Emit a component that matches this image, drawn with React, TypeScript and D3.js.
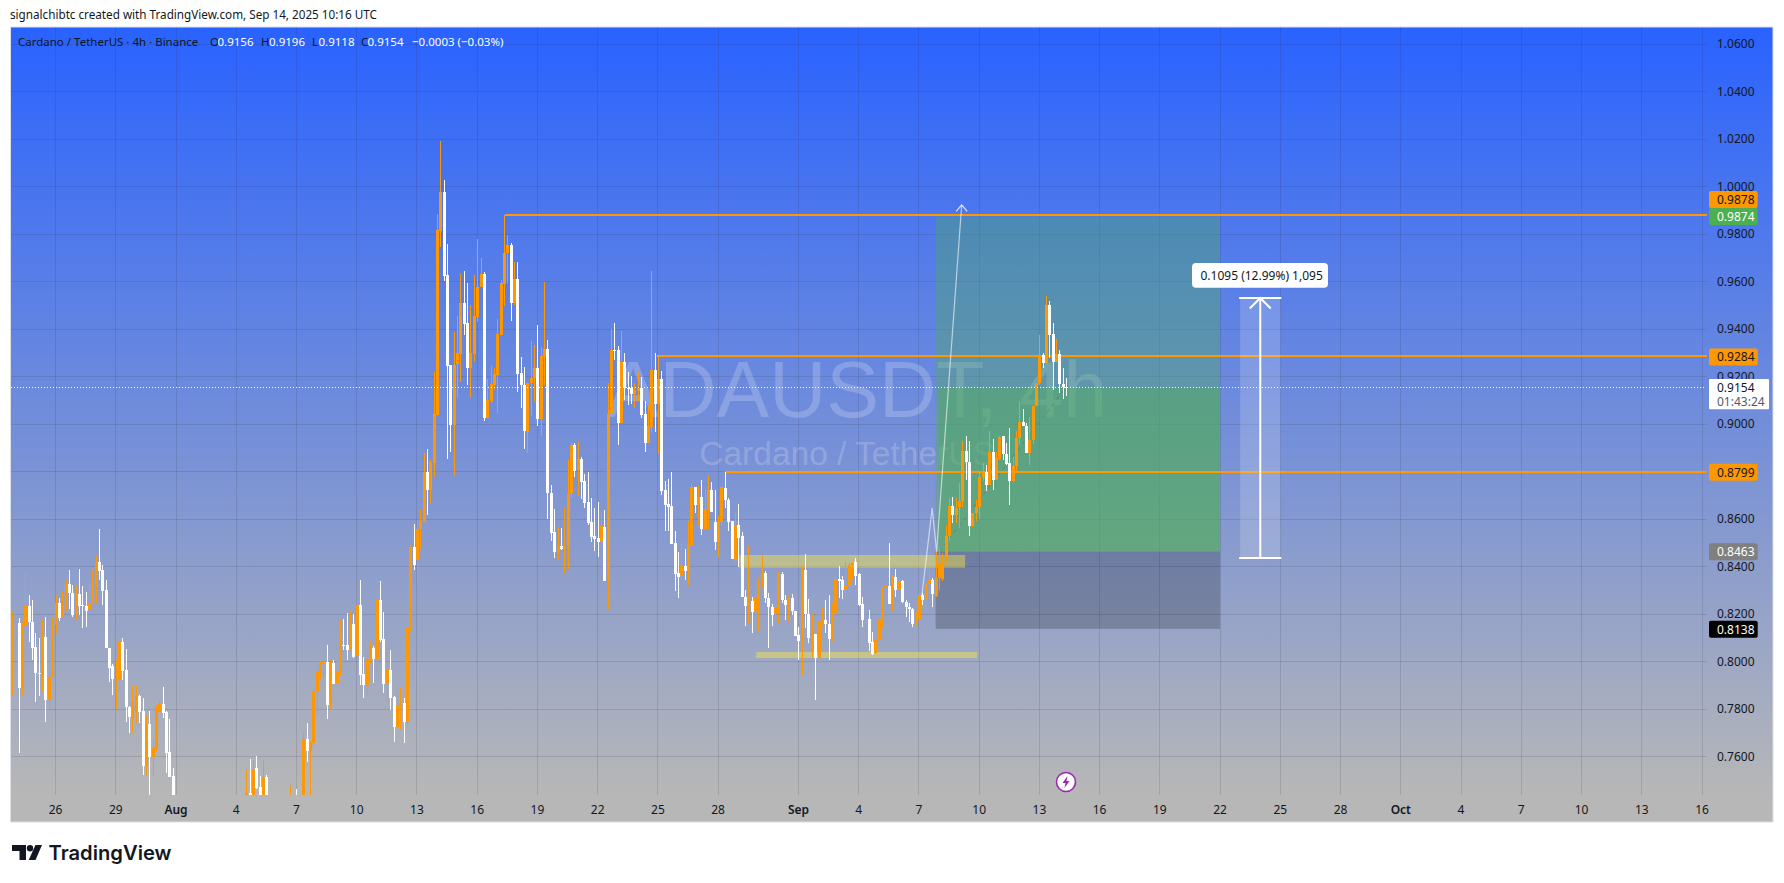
import React from "react";
import * as d3 from "d3";

const W = 1784, H = 883;
const FONT = "'Noto Sans', 'Liberation Sans', sans-serif";

// Candle OHLC, 4h bars, first bar is 49 bars before Aug 1 00:00 UTC
const opens = [
.8136,.8160,.8161,.7890,.8151,.8234,.8165,.8060,.7951,.7944,
.8103,.7838,.7934,.8154,.8245,.8185,.8234,.8327,.8291,.8196,
.8284,.8238,.8234,.8217,.8241,.8318,.8419,.8385,.8301,.8056,
.7981,.7925,.7929,.8084,.7965,.7810,.7765,.7789,.7855,.7792,
.7561,.7737,.7597,.7628,.7790,.7822,.7789,.7618,.7518,.7420,
.7310,.7220,.7260,.7240,.7150,.7230,.7300,.7270,.7320,.7310,
.7350,.7330,.7290,.7340,.7320,.7350,.7370,.7340,.7380,.7400,
.7430,.7446,.7438,.7551,.7471,.7438,.7513,.7430,.7380,.7350,
.7390,.7360,.7400,.7370,.7410,.7380,.7370,.7430,.7673,.7625,
.7659,.7874,.7958,.7995,.7997,.7818,.7996,.7909,.7951,.8070,
.8070,.8049,.8159,.8025,.8239,.7948,.7902,.8010,.8056,.8010,
.8260,.8095,.7906,.7965,.7853,.7727,.7815,.7825,.7748,.8145,
.8484,.8430,.8557,.8590,.8800,.8723,.8835,.9040,.9813,.9979,
.9628,.9249,.8997,.9253,.9295,.9509,.9424,.9235,.9295,.9450,
.9576,.9632,.9027,.9099,.9165,.9207,.9375,.9590,.9719,.9754,
.9509,.9610,.9217,.9165,.8968,.9175,.9193,.9235,.9022,.9284,
.9315,.8709,.8547,.8463,.8486,.8477,.8487,.8711,.8912,.8806,
.8853,.8760,.8672,.8588,.8529,.8520,.8505,.8566,.8339,.9042,
.9314,.9314,.9006,.9261,.9154,.9150,.9126,.9139,.9150,.9042,
.8919,.8989,.9227,.9084,.9190,.8722,.8663,.8655,.8498,.8372,
.8360,.8402,.8383,.8489,.8737,.8660,.8692,.8559,.8639,.8723,
.8590,.8503,.8587,.8730,.8681,.8593,.8428,.8576,.8529,.8274,
.8235,.8257,.8207,.8267,.8340,.8375,.8270,.8232,.8201,.8225,
.8370,.8260,.8239,.8267,.8214,.8113,.8085,.8386,.8200,.8099,
.8117,.8014,.8169,.8176,.8159,.8094,.8204,.8347,.8343,.8302,
.8320,.8406,.8421,.8368,.8242,.8176,.8180,.8084,.8036,.8094,
.8179,.8309,.8319,.8243,.8358,.8302,.8340,.8253,.8229,.8221,
.8158,.8180,.8281,.8260,.8330,.8344,.8277,.8351,.8349,.8417,
.8527,.8656,.8618,.8651,.8677,.8887,.8842,.8572,.8625,.8653,
.8776,.8800,.8745,.8884,.8765,.8852,.8948,.8875,.8835,.8762,
.8824,.8941,.9008,.8993,.8880,.8934,.9077,.9172,.9291,.9259,
.9502,.9380,.9263,.9296,.9169,.9156];

const highs = [
.8210,.8251,.8185,.8168,.8380,.8280,.8259,.8119,.8101,.8175,
.8186,.8000,.8182,.8280,.8270,.8294,.8346,.8385,.8322,.8321,
.8392,.8318,.8294,.8336,.8388,.8446,.8558,.8406,.8343,.8056,
.7990,.8009,.8098,.8098,.8053,.7813,.7897,.7897,.7858,.7845,
.7775,.7792,.7673,.7817,.7841,.7894,.7792,.7758,.7551,.7440,
.7350,.7300,.7330,.7290,.7260,.7330,.7380,.7340,.7400,.7370,
.7420,.7390,.7360,.7410,.7380,.7420,.7430,.7400,.7432,.7435,
.7548,.7589,.7582,.7603,.7519,.7586,.7523,.7436,.7430,.7400,
.7432,.7420,.7435,.7481,.7435,.7463,.7435,.7698,.7740,.7663,
.7884,.8007,.8003,.8052,.8070,.8010,.8007,.8007,.8175,.8180,
.8206,.8211,.8201,.8246,.8344,.8021,.8056,.8084,.8066,.8305,
.8340,.8211,.8000,.8049,.7856,.7881,.7888,.7846,.8147,.8490,
.8580,.8597,.8639,.8877,.8896,.8852,.9218,.9883,1.0192,1.0028,
.9758,.9249,.9389,.9453,.9632,.9645,.9593,.9502,.9628,.9779,
.9698,.9639,.9189,.9245,.9235,.9443,.9607,.9880,.9796,.9761,
.9684,.9681,.9281,.9239,.9179,.9350,.9333,.9417,.9323,.9597,
.9354,.8743,.8642,.8565,.8564,.8648,.8849,.8923,.8919,.8923,
.8860,.8792,.8797,.8687,.8645,.8672,.8631,.8638,.9171,.9400,
.9424,.9328,.9391,.9298,.9219,.9202,.9175,.9220,.9197,.9097,
.9076,.9645,.9298,.9283,.9223,.8760,.8771,.8797,.8550,.8460,
.8498,.8474,.8593,.8747,.8737,.8740,.8765,.8726,.8786,.8758,
.8723,.8614,.8737,.8800,.8690,.8593,.8632,.8664,.8545,.8302,
.8487,.8271,.8295,.8358,.8445,.8383,.8288,.8243,.8239,.8379,
.8376,.8281,.8277,.8284,.8215,.8148,.8403,.8454,.8264,.8204,
.8117,.8211,.8225,.8260,.8281,.8243,.8351,.8403,.8361,.8421,
.8417,.8421,.8435,.8375,.8274,.8243,.8218,.8127,.8186,.8183,
.8316,.8319,.8499,.8365,.8389,.8358,.8344,.8260,.8246,.8225,
.8211,.8292,.8288,.8330,.8386,.8351,.8463,.8480,.8456,.8569,
.8688,.8695,.8690,.8751,.8927,.8948,.8927,.8625,.8681,.8800,
.8835,.8828,.8969,.8936,.8884,.8948,.8951,.8920,.8983,.8863,
.8969,.9098,.9064,.9004,.9032,.9077,.9172,.9373,.9301,.9540,
.9519,.9425,.9359,.9312,.9235,.9196];

const lows = [
.7860,.8105,.7617,.7857,.7969,.8084,.8007,.7831,.7857,.7873,
.7747,.7799,.7934,.8119,.8171,.8185,.8213,.8220,.8189,.8178,
.8196,.8143,.8147,.8196,.8241,.8241,.8343,.8238,.8056,.7915,
.7859,.7799,.7887,.7922,.7747,.7698,.7700,.7740,.7740,.7523,
.7523,.7438,.7518,.7625,.7789,.7761,.7530,.7516,.7400,.7280,
.7190,.7170,.7210,.7100,.7120,.7200,.7250,.7220,.7280,.7260,
.7300,.7250,.7240,.7300,.7260,.7310,.7320,.7290,.7340,.7350,
.7400,.7400,.7420,.7463,.7400,.7420,.7400,.7350,.7330,.7310,
.7340,.7320,.7350,.7340,.7360,.7340,.7350,.7400,.7579,.7420,
.7642,.7780,.7923,.7934,.7759,.7801,.7906,.7909,.7944,.8049,
.8007,.8049,.8014,.8021,.7902,.7849,.7863,.7993,.7912,.7965,
.8084,.7867,.7829,.7797,.7663,.7720,.7712,.7659,.7734,.8130,
.8386,.8337,.8470,.8590,.8618,.8667,.8779,.9040,.9747,.9603,
.8853,.8884,.8782,.9109,.9179,.9375,.9165,.9109,.9263,.9431,
.9576,.9015,.9027,.9088,.9144,.9048,.9375,.9497,.9593,.9434,
.9502,.9137,.9069,.8896,.8880,.9036,.9095,.8992,.8952,.9165,
.8600,.8509,.8437,.8428,.8470,.8372,.8388,.8687,.8778,.8698,
.8684,.8648,.8575,.8505,.8467,.8442,.8484,.8339,.8217,.9038,
.9269,.8912,.9003,.9101,.9080,.9084,.9066,.9097,.9024,.8884,
.8919,.8964,.8968,.8874,.8701,.8551,.8551,.8495,.8299,.8269,
.8343,.8343,.8320,.8487,.8625,.8571,.8534,.8555,.8555,.8630,
.8470,.8442,.8569,.8646,.8548,.8433,.8421,.8400,.8274,.8152,
.8158,.8120,.8101,.8131,.8316,.8246,.8057,.8152,.8183,.8162,
.8246,.8176,.8169,.8197,.8106,.8008,.7944,.8141,.8080,.8014,
.7839,.7986,.8155,.8120,.8005,.8085,.8197,.8267,.8263,.8274,
.8288,.8344,.8323,.8235,.8144,.8162,.8043,.8029,.8033,.8092,
.8148,.8218,.8243,.8207,.8274,.8274,.8246,.8190,.8169,.8148,
.8152,.8176,.8239,.8260,.8288,.8232,.8274,.8302,.8340,.8417,
.8510,.8583,.8583,.8562,.8650,.8765,.8527,.8566,.8594,.8600,
.8760,.8720,.8744,.8723,.8765,.8850,.8849,.8829,.8660,.8758,
.8800,.8913,.8990,.8877,.8828,.8917,.9077,.9165,.9235,.9253,
.9277,.9144,.9260,.9133,.9105,.9118];

const closes = [
.8161,.8161,.7890,.8151,.8234,.8165,.8056,.7951,.7950,.8097,
.7838,.7934,.8158,.8245,.8185,.8238,.8327,.8287,.8196,.8283,
.8235,.8236,.8214,.8244,.8322,.8421,.8383,.8297,.8059,.7974,
.7927,.7929,.8084,.7960,.7810,.7768,.7831,.7855,.7789,.7561,
.7739,.7597,.7636,.7810,.7822,.7785,.7617,.7516,.7420,.7310,
.7220,.7260,.7240,.7150,.7230,.7300,.7270,.7320,.7310,.7350,
.7330,.7290,.7340,.7320,.7350,.7370,.7340,.7380,.7400,.7430,
.7446,.7430,.7547,.7467,.7438,.7513,.7430,.7380,.7350,.7390,
.7360,.7400,.7370,.7410,.7380,.7370,.7430,.7673,.7625,.7663,
.7877,.7958,.8000,.8000,.7818,.7996,.7906,.7958,.8070,.8066,
.8049,.8159,.8021,.8239,.7944,.7902,.8010,.8056,.8010,.8260,
.8091,.7906,.7965,.7849,.7727,.7818,.7822,.7748,.8145,.8484,
.8408,.8557,.8594,.8800,.8723,.8842,.9043,.9817,.9979,.9624,
.9245,.8997,.9249,.9298,.9509,.9422,.9235,.9298,.9455,.9576,
.9632,.9027,.9102,.9169,.9211,.9380,.9593,.9719,.9754,.9509,
.9610,.9211,.9165,.8971,.9175,.9193,.9235,.9022,.9287,.9315,
.8709,.8543,.8463,.8484,.8475,.8487,.8711,.8912,.8802,.8853,
.8757,.8669,.8585,.8526,.8515,.8505,.8571,.8339,.9042,.9314,
.9312,.9006,.9261,.9153,.9147,.9126,.9143,.9153,.9038,.8922,
.8992,.9227,.9084,.9190,.8720,.8659,.8652,.8495,.8369,.8358,
.8402,.8383,.8490,.8734,.8660,.8695,.8559,.8642,.8723,.8628,
.8503,.8587,.8737,.8681,.8587,.8433,.8573,.8520,.8274,.8235,
.8253,.8207,.8267,.8340,.8375,.8270,.8232,.8197,.8225,.8372,
.8260,.8239,.8274,.8214,.8110,.8087,.8383,.8200,.8101,.8117,
.8014,.8169,.8176,.8159,.8094,.8204,.8347,.8340,.8302,.8323,
.8406,.8417,.8361,.8239,.8176,.8179,.8078,.8033,.8094,.8179,
.8309,.8319,.8243,.8361,.8302,.8340,.8253,.8229,.8221,.8158,
.8208,.8281,.8260,.8330,.8344,.8285,.8351,.8417,.8421,.8527,
.8656,.8618,.8646,.8677,.8887,.8842,.8572,.8625,.8653,.8776,
.8800,.8744,.8884,.8765,.8856,.8945,.8873,.8833,.8762,.8824,
.8941,.9008,.8993,.8880,.8934,.9077,.9172,.9289,.9259,.9502,
.9376,.9263,.9296,.9169,.9155,.9154];

const FIRST_BAR = -49;
const BAR_MS = 4 * 3600 * 1000;

// Axis ticks
const priceTicks = [0.76, 0.78, 0.80, 0.82, 0.84, 0.86, 0.88, 0.90, 0.92, 0.94, 0.96, 0.98, 1.0, 1.02, 1.04, 1.06];
const hiddenPriceLabels = [0.88];
const timeTickDays = [-6, -3, 0, 3, 6, 9, 12, 15, 18, 21, 24, 27, 31, 34, 37, 40, 43, 46, 49, 52, 55, 58, 61, 64, 67, 70, 73, 76];
const timeTickLabels = ["26", "29", "Aug", "4", "7", "10", "13", "16", "19", "22", "25", "28", "Sep", "4", "7", "10", "13", "16", "19", "22", "25", "28", "Oct", "4", "7", "10", "13", "16"];

// Drawings
const hLinePrices = [0.9878, 0.9284, 0.8799];
const hLineStartDays = [16.4, 23.97, 27.35];
const lastPrice = 0.9154;
const entryPrice = 0.8463, targetPrice = 0.9874, stopPrice = 0.8138;
const positionDays = [37.83, 52];
const positionFilledDay = 38;
const boxDays = [[28.05, 39.3], [28.9, 39.9]];
const boxPrices = [[0.8449, 0.8396], [0.8041, 0.8015]];
const projDays = [37.14, 37.66, 37.88, 39.13];
const projPrices = [0.8272, 0.8647, 0.8463, 0.9923];
const measureDays = [53, 55];
const measurePrices = [0.8436, 0.9531];
const measureLabel = "0.1095 (12.99%) 1,095";

const axisLabels = [
  { price: 0.9878, text: "0.9878", fill: "#ff9800", color: "#131722", cy: 199.4 },
  { price: 0.9874, text: "0.9874", fill: "#4caf50", color: "#ffffff", cy: 216.4 },
  { price: 0.9284, text: "0.9284", fill: "#ff9800", color: "#131722", cy: 357 },
  { price: 0.8799, text: "0.8799", fill: "#ff9800", color: "#131722", cy: 472.2 },
  { price: 0.8463, text: "0.8463", fill: "#808080", color: "#ffffff", cy: 551.7 },
  { price: 0.8138, text: "0.8138", fill: "#000000", color: "#ffffff", cy: 629.3 },
];

const legendParts = [
  { x: 18, t: "Cardano / TetherUS · 4h · Binance", c: "#131722" },
  { x: 210, t: "O", c: "#131722" }, { x: 217.5, t: "0.9156", c: "#ffffff" },
  { x: 261, t: "H", c: "#131722" }, { x: 269, t: "0.9196", c: "#ffffff" },
  { x: 312, t: "L", c: "#131722" }, { x: 318.5, t: "0.9118", c: "#ffffff" },
  { x: 361, t: "C", c: "#131722" }, { x: 367.5, t: "0.9154", c: "#ffffff" },
  { x: 412, t: "−0.0003 (−0.03%)", c: "#ffffff" },
];

const t0 = Date.UTC(2025, 7, 1);
const dayDate = (d: number) => new Date(t0 + d * 86400000);
const x = d3.scaleUtc().domain([dayDate(0), dayDate(76)]).range([176, 1702]);
const xd = (d: number) => x(dayDate(d));
const y = d3.scaleLinear().domain([0.76, 1.06]).range([756.7, 44]);

const PLOT = { l: 10.5, r: 1773, t: 27, b: 822, clipB: 795 };
const UP = "#ff9800", DOWN = "#ffffff";

const candles = d3.range(opens.length).map((k) => ({
  t: new Date(t0 + (FIRST_BAR + k) * BAR_MS),
  o: opens[k], h: highs[k], l: lows[k], c: closes[k],
}));

export default function App() {
  const projLine = d3.line<number>().x((_, i) => xd(projDays[i])).y((p) => y(p));
  const mx0 = xd(measureDays[0]), mx1 = xd(measureDays[1]);
  const mxc = (mx0 + mx1) / 2;
  const my0 = y(measurePrices[1]), my1 = y(measurePrices[0]);
  const tipX = xd(projDays[3]), tipY = y(projPrices[3]);
  const px0 = xd(positionDays[0]), px1 = xd(positionDays[1]);
  const pxF = xd(positionFilledDay);
  const dotY = Math.floor(y(lastPrice)) + 0.5;
  return (
    <svg width={W} height={H} viewBox={`0 0 ${W} ${H}`} style={{ position: "absolute", left: 0, top: 0, background: "#fff", fontFamily: FONT }}>
      <defs>
        <linearGradient id="bg" x1="0" y1="0" x2="0" y2="1">
          <stop offset="0" stopColor="#2962ff" />
          <stop offset="0.965" stopColor="#b7b7b7" />
          <stop offset="1" stopColor="#b7b7b7" />
        </linearGradient>
        <clipPath id="pane"><rect x={PLOT.l} y={PLOT.t} width={PLOT.r - PLOT.l} height={PLOT.clipB - PLOT.t} /></clipPath>
      </defs>

      <text x={10} y={19} fontSize={11.7} fill="#131722">signalchibtc created with TradingView.com, Sep 14, 2025 10:16 UTC</text>

      <rect x={PLOT.l} y={PLOT.t} width={PLOT.r - PLOT.l} height={PLOT.b - PLOT.t} fill="url(#bg)" stroke="#dcdfe6" strokeWidth={1} />

      <g stroke="#2a2e39" strokeOpacity={0.14} strokeWidth={1} shapeRendering="crispEdges">
        {timeTickDays.map((d) => (<line key={d} x1={xd(d)} x2={xd(d)} y1={PLOT.t} y2={PLOT.clipB} />))}
        {priceTicks.map((p) => (<line key={p} x1={PLOT.l} x2={1707} y1={y(p)} y2={y(p)} />))}
      </g>

      <g fill="#ffffff" fillOpacity={0.2} fontFamily="'Liberation Sans', sans-serif" textAnchor="middle">
        <text x={857} y={417} fontSize={79}>ADAUSDT, 4h</text>
        <text x={847} y={465} fontSize={33.5}>Cardano / TetherUS</text>
      </g>

      {/* Long position tool */}
      <rect x={px0} y={y(targetPrice)} width={px1 - px0} height={y(entryPrice) - y(targetPrice)} fill="#4caf50" fillOpacity={0.35} />
      <rect x={pxF} y={y(lastPrice)} width={px1 - pxF} height={y(entryPrice) - y(lastPrice)} fill="#4caf50" fillOpacity={0.42} />
      <rect x={px0} y={y(entryPrice)} width={px1 - px0} height={y(stopPrice) - y(entryPrice)} fill="#000000" fillOpacity={0.2} />
      <line x1={pxF} y1={y(entryPrice)} x2={xd(44.33)} y2={y(lastPrice)} stroke="#666" strokeOpacity={0.5} strokeDasharray="4 4" />

      {boxDays.map((d, i) => (
        <rect key={i} x={xd(d[0])} width={xd(d[1]) - xd(d[0])} y={y(boxPrices[i][0])} height={y(boxPrices[i][1]) - y(boxPrices[i][0])} fill="#ffeb3b" fillOpacity={0.42} />
      ))}

      {hLinePrices.map((p, i) => {
        const ly = Math.round(y(p) - 0.3);
        return <line key={p} x1={xd(hLineStartDays[i])} x2={1707} y1={ly} y2={ly} stroke="#ff9800" strokeWidth={2} shapeRendering="crispEdges" />;
      })}

      <g clipPath="url(#pane)" shapeRendering="crispEdges">
        {candles.map((c, k) => {
          const cx = Math.round(x(c.t));
          const col = c.c >= c.o ? UP : DOWN;
          const top = y(Math.max(c.o, c.c));
          const bot = y(Math.min(c.o, c.c));
          return (
            <g key={k} fill={col}>
              <rect x={cx} width={1} y={y(c.h)} height={Math.max(1, y(c.l) - y(c.h))} />
              <rect x={cx - 1} width={3} y={top} height={Math.max(1, bot - top)} />
            </g>
          );
        })}
      </g>

      {/* Projection path */}
      <path d={projLine(projPrices) ?? ""} fill="none" stroke="#ffffff" strokeOpacity={0.6} strokeWidth={1.2} />
      <path d={`M${tipX - 5.5} ${tipY + 6.5}L${tipX} ${tipY}L${tipX + 5.5} ${tipY + 6.5}`} fill="none" stroke="#ffffff" strokeOpacity={0.8} strokeWidth={1.2} />

      {/* Measure tool */}
      <rect x={mx0} y={my0} width={mx1 - mx0} height={my1 - my0} fill="#ffffff" fillOpacity={0.17} />
      <g stroke="#ffffff" strokeWidth={2} fill="none">
        <line x1={mx0 - 1} x2={mx1 + 1} y1={my0} y2={my0} />
        <line x1={mx0 - 1} x2={mx1 + 1} y1={my1} y2={my1} />
        <line x1={mxc} x2={mxc} y1={my0} y2={my1} />
        <path d={`M${mxc - 10.5} ${my0 + 10.5}L${mxc} ${my0}L${mxc + 10.5} ${my0 + 10.5}`} />
      </g>
      <rect x={1192} y={263} width={136} height={24.7} rx={4} fill="#ffffff" />
      <text x={1200.5} y={279.5} fontSize={12} fill="#131722">{measureLabel}</text>

      {/* Current price dotted */}
      <line x1={PLOT.l} x2={1706} y1={dotY} y2={dotY} stroke="#ffffff" strokeWidth={1} strokeDasharray="1 2" shapeRendering="crispEdges" />

      {/* Legend */}
      {legendParts.map((p, i) => (
        <text key={i} x={p.x} y={46} fontSize={11.5} fill={p.c}>{p.t}</text>
      ))}

      {/* Price axis */}
      {priceTicks.filter((p) => !hiddenPriceLabels.includes(p)).map((p) => (
        <text key={p} x={1717} y={y(p) + 4.3} fontSize={12} fill="#131722">{p.toFixed(4)}</text>
      ))}
      {axisLabels.map((a) => (
        <g key={a.text}>
          <rect x={1709} y={a.cy - 8.5} width={48.7} height={17} rx={2} fill={a.fill} />
          <text x={1717} y={a.cy + 4.3} fontSize={12} fill={a.color}>{a.text}</text>
        </g>
      ))}
      <rect x={1709} y={379} width={60} height={30.3} rx={1} fill="#ffffff" />
      <text x={1717} y={y(lastPrice) + 4.5} fontSize={12} fill="#131722">{lastPrice.toFixed(4)}</text>
      <text x={1717} y={406.3} fontSize={12} fill="#555a66">01:43:24</text>

      {/* Time axis */}
      {timeTickDays.map((d, i) => {
        const bold = isNaN(+timeTickLabels[i]);
        return (
          <text key={d} x={xd(d)} y={813.5} fontSize={12} textAnchor="middle" fontWeight={bold ? 600 : 400} fill="#131722">{timeTickLabels[i]}</text>
        );
      })}

      {/* Lightning badge */}
      <g transform="translate(1066,782)">
        <circle r={9.5} fill="#ffffff" stroke="#9c27b0" strokeWidth={1.6} />
        <path d="M1.5 -6 L-3.5 1 L-0.5 1 L-1.5 6 L3.5 -1 L0.5 -1 Z" fill="#9c27b0" />
      </g>

      {/* Logo */}
      <g fill="#131722">
        <path d="M12 845H26V860H19.5V851H12Z" />
        <circle cx={30} cy={848.2} r={3.2} />
        <path d="M35.5 845H42L35.5 860H28.7Z" />
        <text x={48.5} y={860} fontFamily="'Inter', sans-serif" fontWeight={600} fontSize={20.2}>TradingView</text>
      </g>
    </svg>
  );
}
